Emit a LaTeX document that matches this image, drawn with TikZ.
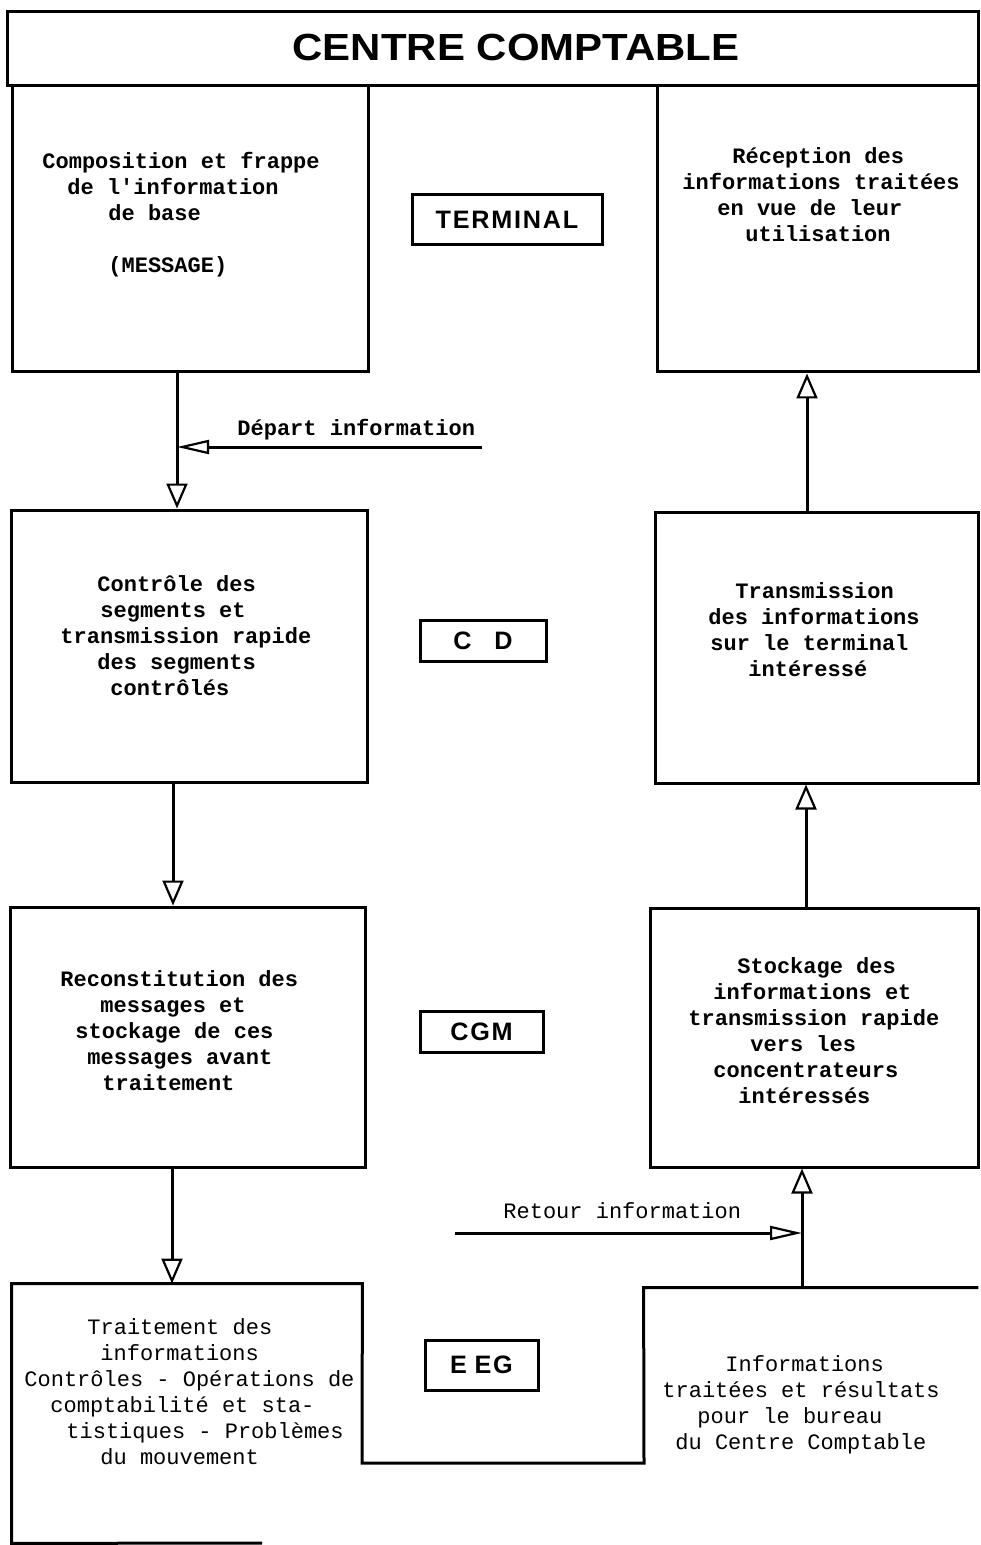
\documentclass[tikz,border=0pt]{standalone}
\usepackage{fontspec}
\usetikzlibrary{arrows.meta,fit}
\newfontfamily\twfont{Liberation Mono}
\newfontfamily\titlefont{Liberation Sans}[FakeStretch=1.11]
\newfontfamily\labfont{Liberation Sans}[LetterSpace=7]
\newlength\pxu
\setlength\pxu{0.5pt}
\newcommand\tline[2]{\hspace*{#1\pxu}\rule[-4pt]{0pt}{13pt}#2}
\tikzset{
 box/.style={draw, line width=1.5pt, inner sep=0pt},
 ghost/.style={inner sep=0pt},
 tbox/.style={draw, line width=1.5pt, inner sep=0pt, text depth=0pt, font=\labfont\bfseries\fontsize{12.6pt}{14pt}\selectfont},
 txt/.style={align=left, inner sep=0pt, anchor=north west, font=\twfont\bfseries\fontsize{11pt}{13pt}\selectfont},
 txtl/.style={txt, font=\twfont\fontsize{11pt}{13pt}\selectfont},
 conn/.style={line width=1.5pt},
 varr/.style={conn, -{Triangle[fill=white, line width=1.1pt, length=12.5pt, width=10.5pt]}},
 harr/.style={conn, -{Triangle[fill=white, line width=1.1pt, length=16pt, width=7pt]}},
}
\begin{document}
\begin{tikzpicture}[x=0.5pt,y=-0.5pt]
\useasboundingbox (0,0) rectangle (980,1545);
\fill[white] (0,0) rectangle (980,1545);

% title band
\node[box, fit={(7,12) (978,86)}] (frame) {};
\node[inner sep=0pt, font=\titlefont\bfseries\fontsize{18.9pt}{20pt}\selectfont] (title) at (516,47.5) {CENTRE COMPTABLE};

% boxes
\node[box, fit={(12,86) (368,372)}] (b1) {};
\node[box, fit={(11,510) (367,782)}] (b2) {};
\node[box, fit={(10,907) (365,1167)}] (b3) {};
\node[ghost, fit={(12,1284) (362,1543)}] (b4) {};
\node[box, fit={(657,86) (978,372)}] (r1) {};
\node[box, fit={(655,512) (978,783)}] (r2) {};
\node[box, fit={(650,908) (978,1167)}] (r3) {};
\node[ghost, fit={(644,1288) (978,1463)}] (r4) {};
\draw[conn] (262,1543) -- (b4.south west) -- (b4.north west) -- (b4.north east) -- (362,1463) -- (644,1463) -- (r4.north west) -- (r4.north east);

% label boxes
\node[tbox, minimum width=95pt, minimum height=25pt] (term) at (507,220) {TERMINAL};
\node[tbox, minimum width=63pt, minimum height=20.5pt] (cd) at (483,640.5) {C\hspace{0.9em}D};
\node[tbox, minimum width=61.5pt, minimum height=20.5pt] (cgm) at (481.5,1031.5) {CGM};
\node[tbox, minimum width=56.5pt, minimum height=25pt] (eeg) at (481.5,1365) {E\hspace{0.3em}EG};

% texts
\node[txt] (t1) at (42,150.5) {\tline{0}{Composition et frappe}\\\tline{25}{de l'information}\\\tline{66}{de base}\\\tline{0}{}\\\tline{66}{(MESSAGE)}};
\node[txt] (t2) at (682,145.5) {\tline{50}{Réception des}\\\tline{0}{informations traitées}\\\tline{35}{en vue de leur}\\\tline{63}{utilisation}};
\node[txt] (t3) at (60,573.5) {\tline{37}{Contrôle des}\\\tline{40}{segments et}\\\tline{0}{transmission rapide}\\\tline{37}{des segments}\\\tline{50}{contrôlés}};
\node[txt] (t4) at (708,580.5) {\tline{27}{Transmission}\\\tline{0}{des informations}\\\tline{2}{sur le terminal}\\\tline{40}{intéressé}};
\node[txt] (t5) at (60,968.5) {\tline{0}{Reconstitution des}\\\tline{40}{messages et}\\\tline{15}{stockage de ces}\\\tline{27}{messages avant}\\\tline{42}{traitement}};
\node[txt] (t6) at (688,955.5) {\tline{49}{Stockage des}\\\tline{25}{informations et}\\\tline{0}{transmission rapide}\\\tline{62}{vers les}\\\tline{25}{concentrateurs}\\\tline{50}{intéressés}};
\node[txtl] (t7) at (24,1316.5) {\tline{63}{Traitement des}\\\tline{76}{informations}\\\tline{0}{Contrôles - Opérations de}\\\tline{26}{comptabilité et sta-}\\\tline{42}{tistiques - Problèmes}\\\tline{76}{du mouvement}};
\node[txtl] (t8) at (662,1353.5) {\tline{63}{Informations}\\\tline{0}{traitées et résultats}\\\tline{35}{pour le bureau}\\\tline{13}{du Centre Comptable}};
\node[txt] (ldep) at (237,417.5) {\tline{0}{Départ information}};
\node[txtl] (lret) at (503,1200.5) {\tline{0}{Retour information}};

% connector coordinates
\coordinate (ax1) at (177,0);
\coordinate (ax2) at (173,0);
\coordinate (ax3) at (172,0);
\coordinate (ax5) at (807,0);
\coordinate (ax6) at (806,0);
\coordinate (ax4) at (802,0);
\coordinate (dep) at (482,447);
\coordinate (ret) at (455,1233);

% connectors
\draw[varr] (b1.south -| ax1) -- (b2.north -| ax1);
\draw[varr] (b2.south -| ax2) -- (b3.north -| ax2);
\draw[varr] (b3.south -| ax3) -- (b4.north -| ax3);
\draw[harr] (dep) -- (dep -| ax1);
\draw[varr] (r2.north -| ax5) -- (r1.south -| ax5);
\draw[varr] (r3.north -| ax6) -- (r2.south -| ax6);
\draw[varr] (r4.north -| ax4) -- (r3.south -| ax4);
\draw[harr] (ret) -- (ret -| ax4);
\end{tikzpicture}
\end{document}
